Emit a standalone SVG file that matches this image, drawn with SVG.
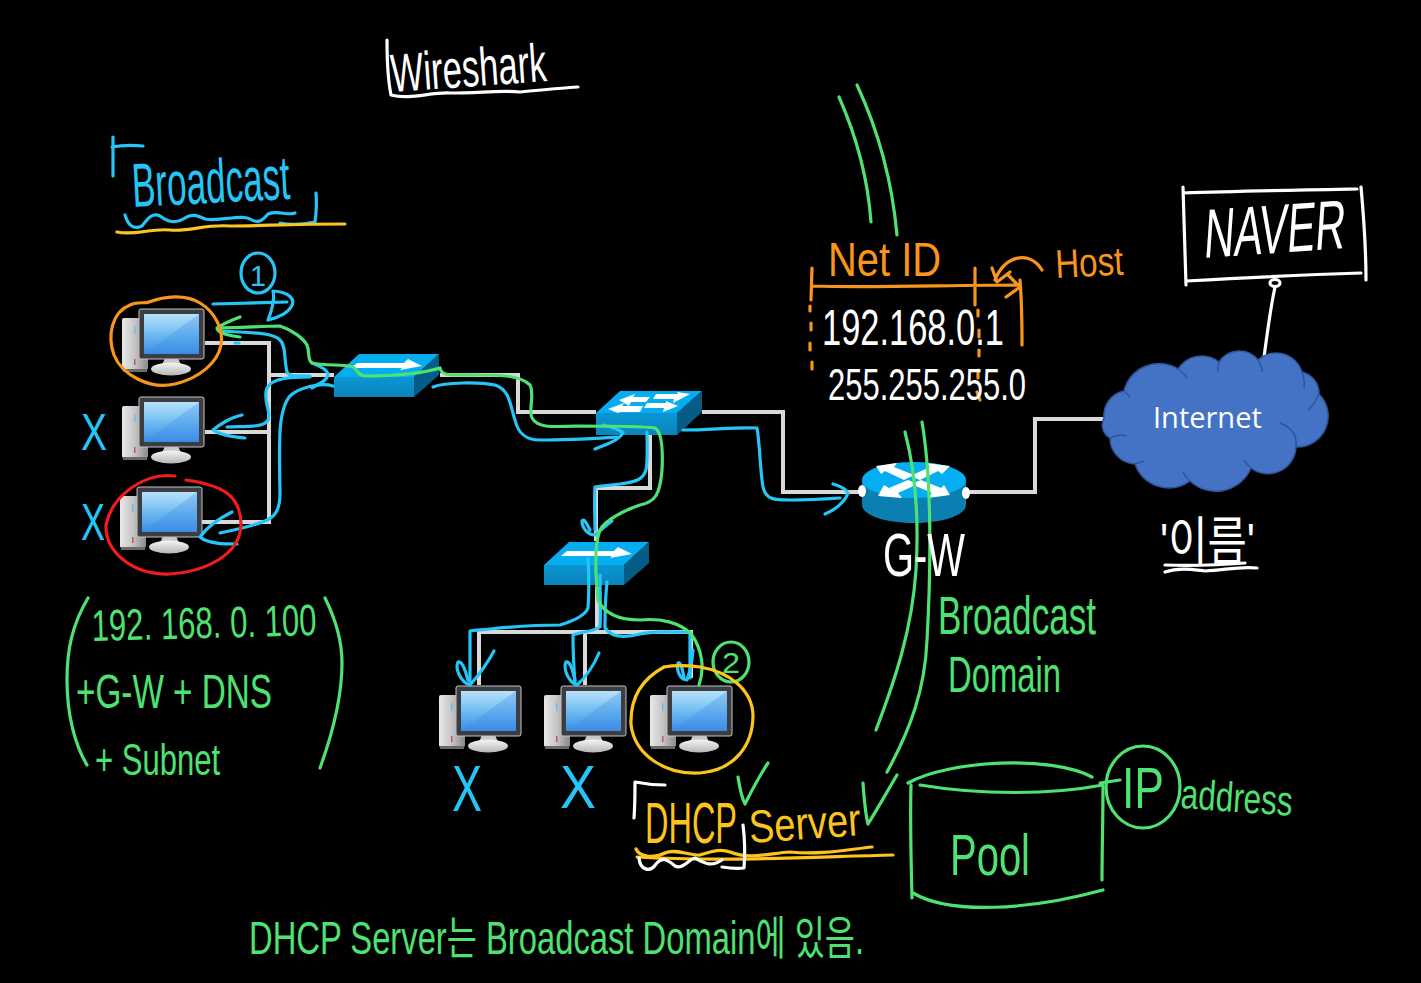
<svg xmlns="http://www.w3.org/2000/svg" width="1421" height="983" viewBox="0 0 1421 983">
<style>
.w{fill:none;stroke:#d9d9d9;stroke-width:4}
.h{fill:none;stroke-linecap:round;stroke-linejoin:round;stroke-width:3.2}
.b{stroke:#25c6f7}.g{stroke:#4fe272}.o{stroke:#f7951d}.r{stroke:#ee1c1c}.y{stroke:#fcc41e}.k{stroke:#fff}
text{font-family:"Liberation Sans","Noto Sans CJK KR",sans-serif;font-weight:400}
.tb{fill:#25c6f7}.tg{fill:#4fe272}.to{fill:#f7951d}.ty{fill:#fcc41e}.tk{fill:#fff}
</style>
<defs>
<linearGradient id="scr" x1="0" y1="0" x2="0" y2="1"><stop offset="0" stop-color="#b9e2fb"/><stop offset=".5" stop-color="#6fbcf2"/><stop offset="1" stop-color="#3c8ce6"/></linearGradient>
<linearGradient id="tow" x1="0" y1="0" x2="1" y2="0"><stop offset="0" stop-color="#e8e8e8"/><stop offset=".5" stop-color="#c4c4c4"/><stop offset="1" stop-color="#8a8a8a"/></linearGradient>
<linearGradient id="bas" x1="0" y1="0" x2="0" y2="1"><stop offset="0" stop-color="#f5f5f5"/><stop offset="1" stop-color="#b5b5b5"/></linearGradient>
<linearGradient id="swf" x1="0" y1="0" x2="0" y2="1"><stop offset="0" stop-color="#0b97d3"/><stop offset="1" stop-color="#0a83bb"/></linearGradient>
<g id="pc">
<rect x="-17" y="9" width="26" height="52" rx="2" fill="url(#tow)"/>
<rect x="-16" y="60" width="24" height="3" fill="#6a6a6a"/>
<rect x="-5" y="17" width="1.5" height="8" fill="#5cc4e8"/>
<rect x="-5" y="50" width="1.5" height="6" fill="#c05a50"/>
<path d="M26,49h13l3,7h-19z" fill="#c9c9c9"/>
<ellipse cx="32" cy="60" rx="20" ry="6.5" fill="url(#bas)"/>
<rect x="0" y="0" width="65" height="50" rx="2" fill="#3b3d42" stroke="#c5c5c5" stroke-width="1"/>
<rect x="5" y="5" width="55" height="40" fill="url(#scr)"/>
<polygon points="5,45 60,5 60,45" fill="#3c8ce6" fill-opacity=".3"/>
</g>
<g id="sw">
<polygon points="0,0 25,-23 105,-23 80,0" fill="#05aef0"/>
<polygon points="0,0 80,0 80,20 0,20" fill="url(#swf)"/>
<polygon points="80,0 105,-23 105,-2 80,20" fill="#055c86"/>
<polygon points="23,-14 70,-14 74,-18 88,-11 66,-7 68,-9 17,-9" fill="#fff"/>
</g>
</defs>
<rect width="1421" height="983" fill="#000"/>
<g id="connectors">
<path class="w" d="M205,343H269V522H200M205,432H269M268,375H334"/>
<path class="w" d="M440,375H518V412H596"/>
<path class="w" d="M702,412H783V492H862"/>
<path class="w" d="M966,492H1035V419H1104"/>
<path class="w" d="M650,435V488H596V541"/>
<path class="w" d="M597,587V632M479,685V632H691V678M585,632V685"/>
<path class="h k" d="M1275,287C1270,310 1267,335 1263,365"/>
</g>
<g id="pc1"><use href="#pc" x="139" y="309"/></g>
<g id="pc2"><use href="#pc" x="139" y="397"/></g>
<g id="pc3"><use href="#pc" x="137" y="487"/></g>
<g id="pc4"><use href="#pc" x="456" y="686"/></g>
<g id="pc5"><use href="#pc" x="561" y="686"/></g>
<g id="pc6"><use href="#pc" x="667" y="686"/></g>
<g id="switch1"><use href="#sw" x="334" y="377"/></g>
<g id="switch3"><use href="#sw" x="544" y="565"/></g>
<g id="switch2">
<polygon points="596,413 620,391 702,391 677,413" fill="#05aef0"/>
<polygon points="596,413 677,413 677,435 596,435" fill="url(#swf)"/>
<polygon points="677,413 702,391 702,412 677,435" fill="#055c86"/>
<polygon points="619,400 635,394 633,397 650,397 646,402 631,402 629,406" fill="#fff"/>
<polygon points="608,409 624,403 622,406 643,406 640,412 620,412 618,413" fill="#fff"/>
<polygon points="690,394 677,392 678,394 656,394 653,399 674,399 673,403" fill="#fff"/>
<polygon points="678,406 666,401 666,403 647,403 644,408 664,408 663,412" fill="#fff"/>
</g>
<g id="router">
<path d="M862,480V505C862,515 885,523 914,523S966,515 966,505V480Z" fill="#0a7fb0"/>
<ellipse cx="914" cy="480" rx="52" ry="18" fill="#05aef0"/>
<polygon points="876,466 897,463 894,467 914,475 904,480 885,471 881,474" fill="#fff"/>
<polygon points="950,466 926,463 930,467 910,476 920,480 938,471 942,474" fill="#fff"/>
<polygon points="878,496 902,498 898,493 918,484 908,480 889,488 884,485" fill="#fff"/>
<polygon points="950,495 928,498 932,493 911,484 921,480 941,488 944,485" fill="#fff"/>
<ellipse cx="862" cy="491" rx="4" ry="6" fill="#fff"/>
<ellipse cx="966" cy="493" rx="4" ry="6" fill="#fff"/>
</g>
<g id="internet">
<path d="M1104,418A25,25 0 0 1 1124,391A36,36 0 0 1 1178,369A28,28 0 0 1 1219,362A24,24 0 0 1 1258,360A27,27 0 0 1 1302,372A22,22 0 0 1 1319,394A31,31 0 0 1 1296,447A28,28 0 0 1 1251,468A38,38 0 0 1 1190,481A36,36 0 0 1 1135,464A26,26 0 0 1 1110,438A15,15 0 0 1 1104,418Z" fill="#4472c4" stroke="#2f5597" stroke-width="1.5"/>
<path d="M1178,369Q1184,373 1187,378M1219,362Q1217,368 1218,372M1258,360Q1262,366 1262,372M1302,372Q1305,378 1304,388M1319,394Q1314,405 1308,410M1296,447Q1298,430 1280,423M1251,468Q1247,465 1244,460M1190,481Q1186,478 1183,472M1135,464Q1140,462 1144,461M1110,438Q1118,434 1127,436M1124,391Q1128,394 1130,398" fill="none" stroke="#2f5597" stroke-width="1.5"/>
<text x="1153" y="428" font-size="29" class="tk" style="font-family:'Open Sans','Noto Sans',sans-serif">Internet</text>
</g>
<g id="blue-marks">
<path class="h b" d="M113,176V137M112,147C122,145 133,145 143,146"/>
<path class="h b" d="M316,193C317,205 316,215 315,222C305,224 290,225 280,223"/>
<path class="h b" d="M125,215C128,225 133,230 142,226C148,218 153,212 160,216C168,222 175,224 185,218C192,213 198,216 205,219C220,222 240,214 250,219C258,224 262,221 268,214C278,210 287,216 295,213"/>
<ellipse class="h b" cx="258" cy="273" rx="17" ry="20"/>
<path class="h b" d="M213,304L287,302M273,291C290,292 296,300 291,307C287,314 276,318 268,320C272,310 275,300 273,291"/>
<path class="h b" d="M310,376C298,375 290,378 287,372C284,360 286,345 280,340C272,332 250,333 222,331"/>
<path class="h b" d="M235,343H239"/>
<path class="h b" d="M310,377C290,377 272,378 267,388C262,400 272,412 268,420C264,428 245,426 227,427"/>
<path class="h b" d="M242,415C232,417 220,424 213,430C222,436 235,437 245,438"/>
<path class="h b" d="M333,386C320,382 298,388 290,396C278,410 279,440 280,493C280,510 275,517 265,521C250,527 235,530 220,533"/>
<path class="h b" d="M232,512C220,518 207,527 200,537C208,544 225,544 237,544"/>
<path class="h b" d="M312,363C320,366 328,370 328,375C326,382 318,384 312,388"/>
<path class="h b" d="M433,387C445,382 480,382 495,385C510,390 510,405 515,420C518,433 525,440 540,440C570,440 600,438 617,437"/>
<path class="h b" d="M603,425C612,427 620,430 623,433C618,441 605,445 595,449"/>
<path class="h b" d="M683,430C710,430 735,427 757,428C760,445 760,470 763,487C766,500 775,500 790,500C810,500 825,499 840,498"/>
<path class="h b" d="M833,484C840,486 846,489 848,493C845,502 835,510 825,514"/>
<path class="h b" d="M647,432C647,445 648,460 646,470C643,480 635,482 620,484C610,485 600,486 595,487C594,500 595,515 595,530"/>
<path class="h b" d="M612,521C605,526 600,531 595,535C588,535 582,528 582,521C584,518 587,524 590,530"/>
<path class="h b" d="M588,558C589,575 589,595 588,608C585,616 570,622 560,625C540,625 510,627 490,629C480,630 475,630 470,631C470,650 470,670 470,683"/>
<path class="h b" d="M494,651C488,662 478,676 470,685C460,682 455,668 458,662C462,660 466,672 468,680"/>
<path class="h b" d="M600,575C600,595 601,612 600,627C592,632 580,632 573,635C573,650 574,670 575,683"/>
<path class="h b" d="M599,653C594,665 585,678 577,685C568,682 563,668 566,662C570,660 573,672 575,680"/>
<path class="h b" d="M607,582C605,600 605,615 605,628C612,638 625,638 640,634C660,630 675,633 690,632C690,650 690,665 690,678"/>
<path class="h b" d="M693,650C692,662 690,672 687,680C680,680 676,670 678,663C681,661 683,672 684,678"/>
<text class="tb" x="133" y="207" font-size="62" textLength="158" lengthAdjust="spacingAndGlyphs" transform="rotate(-3 133 207)">Broadcast</text>
<text class="tb" x="250" y="286" font-size="30" textLength="16" lengthAdjust="spacingAndGlyphs">1</text>
<text class="tb" x="81" y="450" font-size="52" textLength="26" lengthAdjust="spacingAndGlyphs">X</text>
<text class="tb" x="81" y="540" font-size="52" textLength="24" lengthAdjust="spacingAndGlyphs">X</text>
<text class="tb" x="452" y="811" font-size="64" textLength="30" lengthAdjust="spacingAndGlyphs">X</text>
<text class="tb" x="560" y="808" font-size="62" textLength="36" lengthAdjust="spacingAndGlyphs">X</text>
</g>
<g id="green-marks">
<path class="h g" d="M839,97C858,140 868,180 871,222M857,85C878,130 892,180 897,235"/>
<path class="h g" d="M905,432C915,470 919,520 916,570C912,630 895,680 876,730"/>
<path class="h g" d="M922,422C932,480 931,570 927,640C925,690 910,730 887,772"/>
<path class="h g" d="M738,777C740,790 742,798 745,804C752,790 760,775 768,763"/>
<path class="h g" d="M863,783C864,797 865,812 868,824C878,808 888,790 897,775"/>
<path class="h g" d="M240,317C232,320 224,323 217,328C217,333 230,336 240,337M217,328C240,328 262,326 280,326C292,330 303,338 307,345C310,352 307,360 312,363C325,366 345,364 353,367C358,370 358,376 365,376C390,376 420,374 440,368C442,378 455,374 480,375C500,375 520,375 530,385C535,395 528,410 532,418C538,428 550,427 580,426C610,426 640,426 655,428C662,432 663,450 662,470C660,495 655,502 640,505C625,510 605,520 600,530C594,545 596,580 598,600C605,615 620,620 640,620C660,618 680,622 692,635C702,650 705,668 699,685"/>
<ellipse class="h g" cx="731" cy="662" rx="18" ry="20"/>
<text class="tg" x="722" y="673" font-size="30" textLength="18" lengthAdjust="spacingAndGlyphs">2</text>
<path class="h g" d="M88,598C72,625 67,650 67,680C67,715 75,745 87,765"/>
<path class="h g" d="M325,598C336,620 342,640 342,663C342,700 332,735 320,768"/>
<text class="tg" x="92" y="641" font-size="44" textLength="225" lengthAdjust="spacingAndGlyphs" transform="rotate(-1.5 92 641)">192. 168. 0. 100</text>
<text class="tg" x="76" y="708" font-size="48" textLength="196" lengthAdjust="spacingAndGlyphs">+G-W + DNS</text>
<text class="tg" x="95" y="775" font-size="44" textLength="125" lengthAdjust="spacingAndGlyphs">+ Subnet</text>
<text class="tg" x="938" y="634" font-size="54" textLength="158" lengthAdjust="spacingAndGlyphs">Broadcast</text>
<text class="tg" x="948" y="692" font-size="50" textLength="113" lengthAdjust="spacingAndGlyphs">Domain</text>
<path class="h g" d="M908,783C950,760 1050,755 1092,777M920,785C980,795 1050,795 1103,785M911,785C910,820 911,860 912,898M1103,787C1103,820 1102,850 1102,880M913,893C950,915 1030,910 1103,890"/>
<text class="tg" x="950" y="875" font-size="58" textLength="80" lengthAdjust="spacingAndGlyphs">Pool</text>
<ellipse class="h g" cx="1143" cy="787" rx="37" ry="41"/>
<path class="h g" d="M1100,783L1120,780"/>
<text class="tg" x="1122" y="808" font-size="58" textLength="42" lengthAdjust="spacingAndGlyphs">IP</text>
<text class="tg" x="1180" y="808" font-size="42" textLength="112" lengthAdjust="spacingAndGlyphs" transform="rotate(4 1180 808)">address</text>
<text class="tg" x="249" y="954" font-size="46" textLength="615" lengthAdjust="spacingAndGlyphs">DHCP Server는 Broadcast Domain에 있음.</text>
</g>
<g id="orange-marks">
<path class="h o" d="M149,302C165,296 185,294 200,303C215,312 224,330 221,345C218,362 200,378 175,384C150,390 122,375 114,355C107,335 112,312 130,305C138,301 145,304 149,302"/>
<path class="h o" d="M813,286C870,288 950,285 1020,285M812,268L811,300M975,268L975,305M1020,280C1022,305 1022,325 1022,345M1008,275L1020,287L1006,297"/>
<path class="h o" d="M810,306V311M811,323V330M810,343V350M812,362V369M978,310V316M979,330V337M979,350V356M978,370V378M977,392L980,400"/>
<path class="h o" d="M1042,270C1030,250 1005,255 995,280M992,268L997,282L1010,272"/>
<text class="to" x="828" y="276" font-size="48" textLength="113" lengthAdjust="spacingAndGlyphs">Net ID</text>
<text class="to" x="1056" y="278" font-size="40" textLength="68" lengthAdjust="spacingAndGlyphs" transform="rotate(-3 1056 278)">Host</text>
</g>
<g id="red-marks">
<path class="h r" d="M175,476C145,472 112,495 106,525C105,550 130,575 170,574C205,572 240,555 241,525C241,495 222,485 186,480"/>
</g>
<g id="yellow-marks">
<path class="h y" d="M117,232C135,236 150,228 170,230C190,232 205,224 230,226C260,226 290,224 345,224"/>
<path class="h y" d="M664,667C640,680 630,700 631,725C635,755 665,775 700,773C735,770 753,745 753,715C752,690 730,672 700,667C685,665 675,665 664,667"/>
<path class="h y" d="M636,849C640,858 655,858 665,853C675,848 690,856 700,855C710,852 720,848 730,852C750,860 770,853 790,852C820,855 845,850 872,847"/>
<path class="h y" d="M637,857C720,862 810,857 893,855"/>
<text class="ty" x="645" y="843" font-size="58" textLength="92" lengthAdjust="spacingAndGlyphs">DHCP</text>
<text class="ty" x="750" y="843" font-size="46" textLength="112" lengthAdjust="spacingAndGlyphs" transform="rotate(-4 750 843)">Server</text>
</g>
<g id="white-marks">
<path class="h k" d="M387,40C387,60 388,80 391,95C410,100 430,92 450,93C480,93 500,90 520,92C540,90 560,88 578,87"/>
<text class="tk" x="392" y="92" font-size="54" textLength="156" lengthAdjust="spacingAndGlyphs" transform="rotate(-4 392 92)">Wireshark</text>
<path class="h k" d="M1183,193C1240,191 1300,190 1357,189M1183,187C1184,220 1185,255 1186,285M1186,281C1240,278 1300,275 1361,273M1361,187C1364,220 1366,250 1366,280"/>
<text class="tk" font-size="42" transform="translate(1203 258) rotate(-4) skewX(-8) scale(1 1.65)">NAVER</text>
<ellipse class="h k" cx="1275" cy="283" rx="5" ry="3.5"/>
<text class="tk" x="822" y="345" font-size="50" textLength="182" lengthAdjust="spacingAndGlyphs">192.168.0.1</text>
<text class="tk" x="828" y="400" font-size="44" textLength="198" lengthAdjust="spacingAndGlyphs">255.255.255.0</text>
<text class="tk" x="883" y="576" font-size="62" textLength="82" lengthAdjust="spacingAndGlyphs">G-W</text>
<text class="tk" x="1160" y="560" font-size="52" textLength="95" lengthAdjust="spacingAndGlyphs">'이름'</text>
<path class="h k" d="M1165,565C1190,566 1220,565 1245,563M1165,572C1180,567 1195,570 1205,571C1225,570 1240,566 1257,568"/>
<path class="h k" d="M634,818C635,805 635,795 635,782C645,784 655,785 665,785"/>
<path class="h k" d="M743,825C745,840 745,855 744,868C735,869 728,868 722,867"/>
<path class="h k" d="M639,858C640,870 650,873 656,864C662,856 668,860 675,866C683,870 690,858 695,858C702,862 710,868 722,860"/>
</g>
</svg>
